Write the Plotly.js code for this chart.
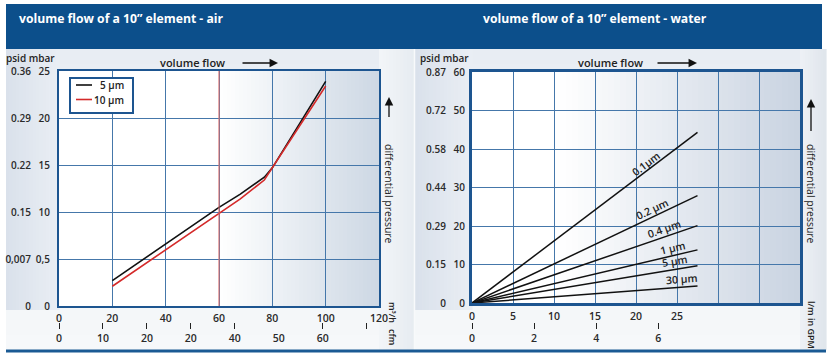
<!DOCTYPE html>
<html><head><meta charset="utf-8">
<script src="https://cdn.plot.ly/plotly-3.0.1.min.js"></script>
<style>html,body{margin:0;padding:0;background:#fff;}#chart{width:831px;height:357px;}</style>
</head><body><div id="chart"></div>
<script>
// ---------- data: air ----------
const airFlowTicks = [0, 20, 40, 60, 80, 100, 120];
const airFlowTickText = ['0', '20', '40', '60', '80', '100', '120'];
const airMbarTicks = [0, 5, 10, 15, 20, 25];
const airMbarText = ['0', '0,5', '10', '15', '20', '25'];
const airPsidText = ['0', '0,007', '0.15', '0.22', '0.29', '0.36'];
const cfmMarkTicks = [0, 10, 20, 30, 40, 60, 70];
const cfmLabelTicks = [0, 10, 20, 30, 40, 50, 60];
const cfmLabelText = ['0', '10', '20', '20', '40', '50', '60'];
const airGrades = ['5 µm', '10 µm'];
const airFlow = [20, 60, 68, 77, 80, 100];
const airDp5um = [2.7, 10.5, 11.9, 13.7, 14.7, 23.9];
const airDp10um = [2.1, 9.8, 11.4, 13.4, 14.7, 23.4];
const airRefLine = [60];

// ---------- data: water ----------
const waterFlowTicks = [0, 5, 10, 15, 20, 25, 30, 35];
const waterFlowTickText = ['0', '5', '10', '15', '20', '25', '', ''];
const waterMbarTicks = [0, 10, 20, 30, 40, 50, 60];
const waterMbarText = ['0', '10', '20', '30', '40', '50', '60'];
const waterPsidText = ['0', '0.15', '0.29', '0.44', '0.58', '0.72', '0.87'];
const gpmTicks = [0, 2, 4, 6];
const gpmText = ['0', '2', '4', '6'];
const waterGrades = ['0.1µm', '0.2 µm', '0.4 µm', '1 µm', '5 µm', '30 µm'];
const waterFlow = [0, 27.5];
const waterDp01um = [0, 44.3];
const waterDp02um = [0, 27.9];
const waterDp04um = [0, 20.1];
const waterDp1um = [0, 13.8];
const waterDp5um = [0, 9.7];
const waterDp30um = [0, 4.4];
const waterSeries = [waterDp01um, waterDp02um, waterDp04um, waterDp1um, waterDp5um, waterDp30um];

// ---------- layout geometry (pixels) ----------
const W = 831, H = 357;
const fx = p => p / W, fy = p => 1 - p / H;
const L = {x0: 59, x1: 379, y0: 71, y1: 306};
const R = {x0: 472, x1: 800, y0: 72, y1: 303};
const FONT = "'Open Sans', 'Noto Sans', sans-serif";
const tickFont = {family: FONT, size: 10.5, color: '#2a2a2a', weight: 600, stretch: 'condensed'};
const yTickFont = {family: FONT, size: 10, color: '#2a2a2a', weight: 600, stretch: 'condensed'};
const smallFont = (s, w) => ({family: FONT, size: s, color: '#222', weight: w || 600, stretch: 'condensed'});
const FRAME = '#1d5590', GRID = '#4577aa';
const airColors = ['#111111', '#d42a2a'];

// ---------- traces ----------
const traces = [
  {x: airFlow, y: airDp5um, xaxis: 'x', yaxis: 'y', type: 'scatter', mode: 'lines', name: airGrades[0],
   line: {color: airColors[0], width: 1.6}, hoverinfo: 'skip', showlegend: false},
  {x: airFlow, y: airDp10um, xaxis: 'x', yaxis: 'y', type: 'scatter', mode: 'lines', name: airGrades[1],
   line: {color: airColors[1], width: 1.6}, hoverinfo: 'skip', showlegend: false}
];
waterSeries.forEach((s, i) => traces.push({
  x: waterFlow, y: s, xaxis: 'x2', yaxis: 'y2', type: 'scatter', mode: 'lines', name: waterGrades[i],
  line: {color: '#111', width: 1.5}, showlegend: false, hoverinfo: 'skip'}));
[['x3','y'],['x4','y'],['x','y3'],['x5','y2'],['x2','y4']].forEach(p => traces.push({
  x: [], y: [], xaxis: p[0], yaxis: p[1], type: 'scatter', mode: 'lines', showlegend: false, hoverinfo: 'skip'}));

// ---------- shapes ----------
const shapes = [];
function hex(c){return [1,3,5].map(i=>parseInt(c.substr(i,2),16));}
function mix(a,b,t){const A=hex(a),B=hex(b);return 'rgb('+A.map((v,i)=>Math.round(v+(B[i]-v)*t)).join(',')+')';}
function rectPx(x0,y0,x1,y1,color,o){shapes.push(Object.assign({type:'rect',xref:'paper',yref:'paper',x0:fx(x0),x1:fx(x1),y0:fy(y1),y1:fy(y0),fillcolor:color,line:{width:0},layer:'below'},o||{}));}
function gradX(x0,x1,y0,y1,c0,c1,n){const w=(x1-x0)/n;for(let i=0;i<n;i++){rectPx(x0+i*w,y0,x0+(i+1)*w+0.6,y1,mix(c0,c1,(i+0.5)/n));}}
function gradY(x0,x1,y0,y1,c0,c1,n){const h=(y1-y0)/n;for(let i=0;i<n;i++){rectPx(x0,y0+i*h,x1,y0+(i+1)*h+0.6,mix(c0,c1,(i+0.5)/n));}}
function linePx(x0,y0,x1,y1,color,width,layer){shapes.push({type:'line',xref:'paper',yref:'paper',x0:fx(x0),x1:fx(x1),y0:fy(y0),y1:fy(y1),line:{color:color,width:width},layer:layer||'above'});}
// panel backgrounds
gradY(6, 414, 49, 350, '#e8edf3', '#f6f8fa', 20);
gradY(415, 826, 49, 350, '#e8edf3', '#f6f8fa', 20);
gradX(6, 59, 49, 310, '#d9e1eb', '#e9eef4', 16);
gradX(415, 472, 49, 310, '#d9e1eb', '#e9eef4', 16);
gradX(379, 414, 49, 350, '#f3f5f8', '#e6ebf1', 10);
gradX(800, 826, 49, 350, '#eef1f5', '#dfe5ec', 10);
// plot area backgrounds
rectPx(L.x0, L.y0, 219, L.y1, '#ffffff');
gradX(219, L.x1, L.y0, L.y1, '#ffffff', '#cdd7e4', 40);
rectPx(R.x0, R.y0, 560, R.y1, '#ffffff');
gradX(560, R.x1, R.y0, R.y1, '#ffffff', '#c9d3e1', 40);
// header band and bottom rule
rectPx(6, 4, 822, 49, '#0c4f8b');
linePx(6, 351, 826, 351, '#1a5a94', 3);
linePx(414.5, 49, 414.5, 350, '#f8f9fb', 1.5, 'below');
// reference line in air chart
airRefLine.forEach(v => shapes.push({type:'line',xref:'x',yref:'y',x0:v,x1:v,y0:0,y1:25,line:{color:'#d96b6b',width:1.1},layer:'above'}));
// legend box for the air chart
rectPx(70, 78, 133, 113, '#ffffff', {layer:'above', line:{color:FRAME, width:2}});
linePx(76, 85, 92, 85, airColors[0], 1.6);
linePx(76, 99.5, 92, 99.5, airColors[1], 1.6);

// ---------- annotations ----------
const ann = [];
function txt(x, y, text, o){ann.push(Object.assign({xref:'paper',yref:'paper',x:fx(x),y:fy(y),text:text,showarrow:false,
  xanchor:'center',yanchor:'middle',font:{family:FONT,size:10.5,color:'#222',weight:600}},o||{}));}
function arrow(xh, yh, ax, ay){ann.push({xref:'paper',yref:'paper',x:fx(xh),y:fy(yh),text:' ',showarrow:true,ax:ax,ay:ay,
  arrowhead:2,arrowsize:1.3,arrowwidth:1.3,arrowcolor:'#111',standoff:0,startstandoff:0,font:{size:1},borderpad:0});}
txt(17, 18, 'volume flow of a 10” element - air', {xanchor:'left', font:{family:FONT,size:12.2,color:'#fff',weight:700}});
txt(595, 18, 'volume flow of a 10” element - water', {font:{family:FONT,size:12.2,color:'#fff',weight:700}});
txt(192, 62, 'volume flow', {font:{family:FONT,size:11,color:'#222',weight:600}});
txt(610, 62, 'volume flow', {font:{family:FONT,size:11,color:'#222',weight:600}});
arrow(278, 63, -36, 0);
arrow(697, 63, -40, 0);
txt(30, 58, 'psid mbar', {font:smallFont(10)});
txt(444, 58, 'psid mbar', {font:smallFont(10)});
txt(389, 194, 'differential pressure', {textangle:90, font:{family:FONT,size:10.5,color:'#222',weight:400}});
txt(811, 194, 'differential pressure', {textangle:90, font:{family:FONT,size:10.5,color:'#222',weight:400}});
arrow(389, 97, 0, 21);
arrow(811, 99, 0, 33);
txt(393, 312, 'm³/h', {textangle:90, font:smallFont(9)});
txt(393, 337, 'cfm', {textangle:90, font:smallFont(9)});
txt(812, 325, 'l/m in GPM', {textangle:90, font:smallFont(9)});
// legend texts
txt(126, 85, airGrades[0], {xanchor:'right', font:smallFont(10)});
txt(126, 99.5, airGrades[1], {xanchor:'right', font:smallFont(10)});
// water grade labels along each line
const waterLabelT = [0.77, 0.80, 0.85, 0.89, 0.90, 0.93];
const pxPerX = (R.x1 - R.x0) / 40, pxPerY = (R.y1 - R.y0) / 60;
waterSeries.forEach((s, i) => {
  const dx = waterFlow[1] - waterFlow[0], dy = s[1] - s[0], t = waterLabelT[i];
  const ang = -Math.atan((dy * pxPerY) / (dx * pxPerX)) * 180 / Math.PI;
  ann.push({xref:'x2', yref:'y2', x: waterFlow[0] + t * dx, y: s[0] + t * dy, text: waterGrades[i], showarrow:false,
    textangle: ang, yshift: 8, font: smallFont(10.5)});
});

// ---------- axes ----------
const base = {showline:true, mirror:true, linecolor:FRAME, zeroline:false, ticks:'', tickfont:tickFont,
  showgrid:true, gridcolor:GRID, gridwidth:1, tickmode:'array', fixedrange:true};
const layout = {
  width: W, height: H, margin: {l:0, r:0, t:0, b:0},
  paper_bgcolor: '#ffffff', plot_bgcolor: 'rgba(0,0,0,0)',
  font: {family: FONT},
  showlegend: false,
  xaxis: Object.assign({}, base, {domain:[fx(L.x0), fx(L.x1)], anchor:'y', range:[0,120], linewidth:2,
    tickvals: airFlowTicks, ticktext: airFlowTickText, ticklabelstandoff: 1}),
  yaxis: Object.assign({}, base, {domain:[fy(L.y1), fy(L.y0)], anchor:'x', range:[0,25], linewidth:2,
    tickvals: airMbarTicks, ticktext: airMbarText, ticklabelstandoff: 5, tickfont: yTickFont}),
  yaxis3: {overlaying:'y', anchor:'free', position: fx(31), side:'left', range:[0,25], showgrid:false, showline:false,
    zeroline:false, ticks:'', tickmode:'array', tickvals: airMbarTicks, ticktext: airPsidText, tickfont: yTickFont, fixedrange:true},
  xaxis3: {overlaying:'x', anchor:'free', position: fy(322), side:'bottom', range:[0,72.8], showgrid:false, showline:false,
    zeroline:false, ticks:'outside', ticklen:6, tickwidth:1, tickcolor:'#222', tickmode:'array', tickvals: cfmMarkTicks,
    showticklabels:false, fixedrange:true},
  xaxis4: {overlaying:'x', anchor:'free', position: fy(330), side:'bottom', range:[0,72.8], showgrid:false, showline:false,
    zeroline:false, ticks:'', tickmode:'array', tickvals: cfmLabelTicks, ticktext: cfmLabelText, tickfont: tickFont, fixedrange:true},
  xaxis2: Object.assign({}, base, {domain:[fx(R.x0), fx(R.x1)], anchor:'y2', range:[0,40], linewidth:3,
    tickvals: waterFlowTicks, ticktext: waterFlowTickText, ticklabelstandoff: 1}),
  yaxis2: Object.assign({}, base, {domain:[fy(R.y1), fy(R.y0)], anchor:'x2', range:[0,60], linewidth:3,
    tickvals: waterMbarTicks, ticktext: waterMbarText, ticklabelstandoff: 2, tickfont: yTickFont}),
  yaxis4: {overlaying:'y2', anchor:'free', position: fx(446), side:'left', range:[0,60], showgrid:false, showline:false,
    zeroline:false, ticks:'', tickmode:'array', tickvals: waterMbarTicks, ticktext: waterPsidText, tickfont: yTickFont, fixedrange:true},
  xaxis5: {overlaying:'x2', anchor:'free', position: fy(322), side:'bottom', range:[0,10.56], showgrid:false, showline:false,
    zeroline:false, ticks:'outside', ticklen:6, tickwidth:1, tickcolor:'#222', tickmode:'array', tickvals: gpmTicks,
    ticktext: gpmText, tickfont: tickFont, fixedrange:true},
  shapes: shapes,
  annotations: ann
};
Plotly.newPlot('chart', traces, layout, {displayModeBar:false, staticPlot:true});
</script>
</body></html>
